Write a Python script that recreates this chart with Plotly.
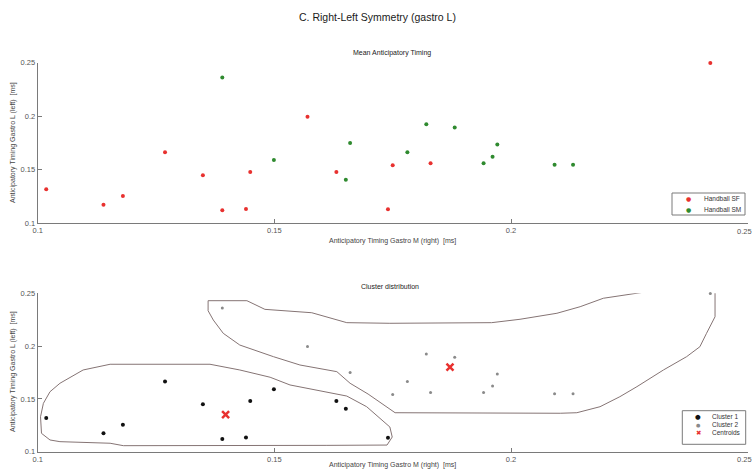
import plotly.graph_objects as go

# ---------------- data ----------------
sf_x = [0.1018, 0.1139, 0.1180, 0.1269, 0.1349, 0.1390, 0.1440, 0.1449, 0.1570, 0.1631, 0.1750, 0.1830, 0.1740, 0.2421]
sf_y = [0.1318, 0.1174, 0.1255, 0.1664, 0.1449, 0.1121, 0.1134, 0.1479, 0.1996, 0.1479, 0.1542, 0.1561, 0.1131, 0.2497]
sm_x = [0.1390, 0.1499, 0.1660, 0.1651, 0.1821, 0.1881, 0.1781, 0.1971, 0.1961, 0.1942, 0.2092, 0.2131]
sm_y = [0.2361, 0.1592, 0.1750, 0.1407, 0.1925, 0.1894, 0.1664, 0.1735, 0.1622, 0.1561, 0.1548, 0.1548]

c1_x = [0.1018, 0.1139, 0.1180, 0.1269, 0.1349, 0.1390, 0.1440, 0.1449, 0.1499, 0.1631, 0.1651, 0.1740]
c1_y = [0.1318, 0.1174, 0.1255, 0.1664, 0.1449, 0.1121, 0.1134, 0.1479, 0.1592, 0.1479, 0.1407, 0.1131]
c2_x = [0.1390, 0.1570, 0.1660, 0.1750, 0.1781, 0.1821, 0.1830, 0.1881, 0.1942, 0.1961, 0.1971, 0.2092, 0.2131, 0.2421]
c2_y = [0.2361, 0.1996, 0.1750, 0.1542, 0.1664, 0.1925, 0.1561, 0.1894, 0.1561, 0.1622, 0.1735, 0.1548, 0.1548, 0.2497]
cent_x = [0.1397, 0.1871]
cent_y = [0.1350, 0.1802]

b1_x = [0.1153, 0.1364, 0.1427, 0.1491, 0.1533, 0.1603, 0.1653, 0.1695, 0.1723, 0.1744, 0.1749, 0.1738,
        0.1611, 0.1181, 0.1153, 0.1096, 0.1047, 0.1026, 0.1008, 0.1006, 0.1012, 0.1026, 0.1047, 0.1096, 0.1153]
b1_y = [0.1828, 0.1828, 0.1774, 0.1705, 0.1632, 0.1568, 0.1527, 0.1426, 0.1319, 0.1234, 0.1139, 0.1063,
        0.1060, 0.1057, 0.1080, 0.1089, 0.1095, 0.1111, 0.1174, 0.1331, 0.1458, 0.1568, 0.1648, 0.1774, 0.1828]

b2_x = [0.1360, 0.1442, 0.1480, 0.1579, 0.1653, 0.1744, 0.1959, 0.2019, 0.2097, 0.2146, 0.2195, 0.2244,
        0.2287, 0.2343, 0.2420, 0.2431, 0.2431, 0.2413, 0.2399, 0.2371, 0.2322, 0.2266, 0.2230, 0.2188,
        0.2139, 0.2104, 0.1755, 0.1698, 0.1660, 0.1632, 0.1554, 0.1498, 0.1427, 0.1392, 0.1371, 0.1360, 0.1360]
b2_y = [0.2430, 0.2430, 0.2348, 0.2316, 0.2222, 0.2216, 0.2222, 0.2254, 0.2311, 0.2373, 0.2453, 0.2484,
        0.2515, 0.2563, 0.2569, 0.2531, 0.2278, 0.2121, 0.1994, 0.1900, 0.1774, 0.1616, 0.1521, 0.1426,
        0.1369, 0.1364, 0.1369, 0.1546, 0.1648, 0.1758, 0.1821, 0.1900, 0.2010, 0.2121, 0.2247, 0.2335, 0.2430]

x_ticks = [0.1, 0.15, 0.2, 0.25]
x_ticktext = ["0.1", "0.15", "0.2", "0.25"]
y_ticks = [0.1, 0.15, 0.2, 0.25]
y_ticktext = ["0.1", "0.15", "0.2", "0.25"]

main_title = "C. Right-Left Symmetry (gastro L)"
top_title = "Mean Anticipatory Timing"
bottom_title = "Cluster distribution"
x_label = "Anticipatory Timing Gastro M (right)  [ms]"
y_label = "Anticipatory Timing Gastro L (left)  [ms]"
legend1_names = ["Handball SF", "Handball SM"]
legend2_names = ["Cluster 1", "Cluster 2", "Centroids"]

# ---------------- figure ----------------
W, H = 755, 473
FONT = "Liberation Sans"
RED = "#e8312f"
GREEN = "#2f8a2f"
BLACK = "#111111"
GRAY = "#8a8a8a"
AX = "#7a7a7a"
TICK_COLOR = "#555555"


def xp(p):
    return p / W


def yp(p):
    return 1 - p / H


fig = go.Figure()

fig.add_trace(go.Scatter(x=sf_x, y=sf_y, mode="markers", name=legend1_names[0],
                         marker=dict(color=RED, size=4), xaxis="x", yaxis="y",
                         cliponaxis=False))
fig.add_trace(go.Scatter(x=sm_x, y=sm_y, mode="markers", name=legend1_names[1],
                         marker=dict(color=GREEN, size=4), xaxis="x", yaxis="y",
                         cliponaxis=False))

line_style = dict(color="#857474", width=1)
fig.add_trace(go.Scatter(x=b1_x, y=b1_y, mode="lines", line=line_style,
                         xaxis="x2", yaxis="y2", cliponaxis=False, hoverinfo="skip"))
fig.add_trace(go.Scatter(x=b2_x, y=b2_y, mode="lines", line=line_style,
                         xaxis="x2", yaxis="y2", cliponaxis=False, hoverinfo="skip"))
fig.add_trace(go.Scatter(x=c1_x, y=c1_y, mode="markers", name=legend2_names[0],
                         marker=dict(color=BLACK, size=4), xaxis="x2", yaxis="y2",
                         cliponaxis=False))
fig.add_trace(go.Scatter(x=c2_x, y=c2_y, mode="markers", name=legend2_names[1],
                         marker=dict(color=GRAY, size=3), xaxis="x2", yaxis="y2",
                         cliponaxis=False))
fig.add_trace(go.Scatter(x=cent_x, y=cent_y, mode="markers", name=legend2_names[2],
                         marker=dict(color=RED, size=7, symbol="x-thin",
                                     line=dict(color=RED, width=2.5)),
                         xaxis="x2", yaxis="y2", cliponaxis=False))

axis_common = dict(showgrid=False, zeroline=False, showline=True, linecolor=AX, linewidth=1,
                   ticks="inside", ticklen=4, tickcolor=AX, tickwidth=1,
                   tickfont=dict(family=FONT, size=7.5, color=TICK_COLOR),
                   mirror=False, automargin=False, fixedrange=True)

x_dom = [xp(37.7), xp(747.7)]
top_dom = [yp(223.3), yp(62.7)]
bot_dom = [yp(451.7), yp(293.3)]
x_range = [0.1, 0.25 + 1e-9]
y_range = [0.1 - 1e-9, 0.25 + 1e-9]
# the last x tick label sits at the page edge: draw it right-aligned as text
x_axis_text = x_ticktext[:-1] + [""]

fig.update_layout(
    width=W, height=H,
    margin=dict(l=0, r=0, t=0, b=0),
    paper_bgcolor="white", plot_bgcolor="white",
    font=dict(family=FONT, color="#333333"),
    showlegend=False,
    xaxis=dict(range=x_range, domain=x_dom, anchor="y",
               tickvals=x_ticks, ticktext=x_axis_text, **axis_common),
    yaxis=dict(range=y_range, domain=top_dom, anchor="x",
               tickvals=y_ticks, ticktext=y_ticktext, **axis_common),
    xaxis2=dict(range=x_range, domain=x_dom, anchor="y2",
                tickvals=x_ticks, ticktext=x_axis_text, **axis_common),
    yaxis2=dict(range=y_range, domain=bot_dom, anchor="x2",
                tickvals=y_ticks, ticktext=y_ticktext, **axis_common),
)


def ann(text, x, y, size, angle=0, color="#222222", anchor="center", family=FONT):
    fig.add_annotation(text=text, x=xp(x), y=yp(y), xref="paper", yref="paper",
                       showarrow=False, xanchor=anchor, yanchor="middle",
                       textangle=angle, font=dict(family=family, size=size, color=color))


ann(main_title, 377, 17, 10.5, color="#1a1a1a")
ann(top_title, 392, 52.5, 7)
ann(bottom_title, 390, 286, 7)
ann(x_label, 392, 241, 7, color="#444444")
ann(x_label, 392, 465, 7, color="#444444")
ann(y_label, 13, 143, 7, angle=-90, color="#444444")
ann(y_label, 13, 372, 7, angle=-90, color="#444444")
ann(x_ticktext[-1], 754, 231, 7.5, color=TICK_COLOR, anchor="right")
ann(x_ticktext[-1], 754, 459.5, 7.5, color=TICK_COLOR, anchor="right")

# ---- legends (box + symbol + label) ----
def legend_box(x0, y0, x1, y1):
    fig.add_shape(type="rect", xref="paper", yref="paper",
                  x0=xp(x0), x1=xp(x1), y0=yp(y1), y1=yp(y0),
                  line=dict(color=AX, width=1), fillcolor="white", layer="above")


legend_box(672, 193, 745, 215)
ann("●", 688.3, 198, 6, color=RED, family="DejaVu Sans")
ann("●", 688.3, 209.5, 6, color=GREEN, family="DejaVu Sans")
ann(legend1_names[0], 701.5, 198, 6.5, color="#333333", anchor="left")
ann(legend1_names[1], 701.5, 209.5, 6.5, color="#333333", anchor="left")

legend_box(682.3, 410.7, 745.7, 444.3)
ann("●", 698.3, 416.7, 6.5, color=BLACK, family="DejaVu Sans")
ann("●", 698.3, 424.7, 5, color=GRAY, family="DejaVu Sans")
ann("✖", 698.3, 432.7, 6.5, color=RED, family="DejaVu Sans")
ann(legend2_names[0], 710, 416.7, 6.5, color="#333333", anchor="left")
ann(legend2_names[1], 710, 424.7, 6.5, color="#333333", anchor="left")
ann(legend2_names[2], 710, 432.7, 6.5, color="#333333", anchor="left")

# remove the page's default body margin so the figure fills the window exactly
fig.write_html("out.html", config=dict(displayModeBar=False),
               post_script="document.body.style.margin='0';document.body.style.overflow='hidden';")
